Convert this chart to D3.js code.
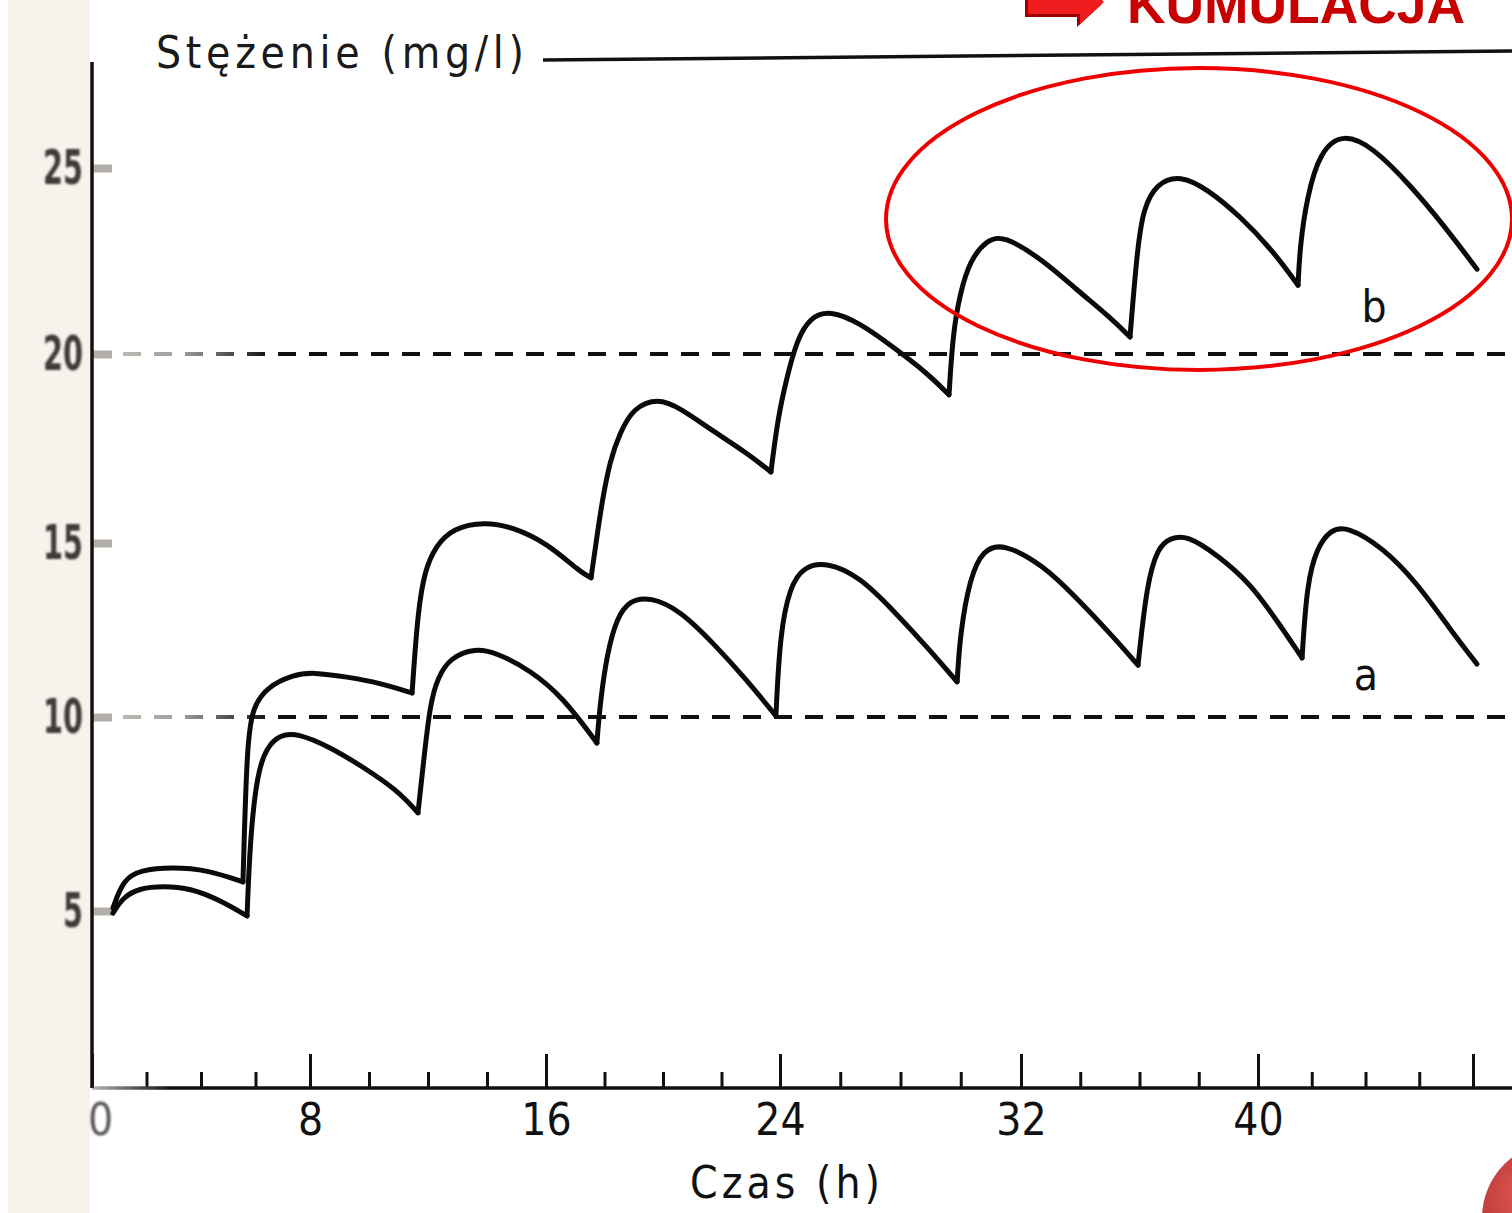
<!DOCTYPE html>
<html>
<head>
<meta charset="utf-8">
<script src="https://cdn.jsdelivr.net/npm/d3@7"></script>
<style>
  body { margin: 0; background: #fff; }
  svg { display: block; }
</style>
</head>
<body>
<svg id="chart"></svg>
<script>
// hours on the time axis, and where the labels are printed
var hourTicks = [0, 8, 16, 24, 32, 40, 48];
var hourLabels = ['0', '8', '16', '24', '32', '40', ''];
var minorHours = d3.range(0, 49, 2);
var concTicks = [5, 10, 15, 20, 25];
var levelLines = [10, 20];

// [time (h), concentration (mg/l)]
var seriesA = [
  [0.77, 4.94], [1.14, 5.36], [1.76, 5.59], [2.61, 5.64], [3.60, 5.59], [4.70, 5.28], [5.69, 4.86],
  [5.80, 6.83], [6.06, 8.56], [6.42, 9.23], [6.90, 9.54], [7.52, 9.59], [8.68, 9.23], [9.80, 8.71], [10.95, 8.12], [11.66, 7.53],
  [11.83, 8.71], [12.07, 10.40], [12.34, 11.15], [12.75, 11.70], [13.59, 11.98], [14.34, 11.84], [15.46, 11.35], [16.58, 10.57], [17.74, 9.33],
  [17.85, 10.40], [18.09, 11.84], [18.43, 12.87], [18.87, 13.36], [19.56, 13.45], [20.58, 13.07], [21.71, 12.13], [22.87, 11.06], [23.86, 10.03],
  [24.00, 12.41], [24.33, 13.74], [24.76, 14.31], [25.56, 14.46], [26.66, 14.02], [27.75, 13.07], [28.88, 12.01], [29.88, 11.01],
  [29.98, 12.41], [30.31, 14.02], [30.74, 14.80], [31.40, 15.00], [32.74, 14.37], [33.89, 13.41], [35.00, 12.41], [35.95, 11.49],
  [36.25, 13.85], [36.62, 14.87], [37.03, 15.13], [37.60, 15.21], [38.62, 14.66], [39.73, 13.86], [40.82, 12.64], [41.64, 11.70],
  [41.82, 13.85], [42.20, 14.87], [42.68, 15.34], [43.31, 15.45], [44.65, 14.87], [45.92, 13.85], [47.14, 12.53], [48.15, 11.52]
];
var seriesB = [
  [0.77, 5.08], [1.14, 5.80], [1.76, 6.06], [2.97, 6.13], [4.22, 6.06], [5.54, 5.75],
  [5.69, 9.41], [5.91, 10.29], [6.42, 10.86], [7.38, 11.21], [8.10, 11.29], [9.25, 11.15], [10.37, 10.98], [11.46, 10.69],
  [11.66, 13.10], [11.90, 14.22], [12.24, 14.89], [12.85, 15.40], [13.93, 15.56], [14.88, 15.42], [16.03, 15.00], [17.16, 14.17], [17.54, 14.00],
  [17.74, 15.16], [17.91, 16.06], [18.19, 17.20], [18.53, 17.91], [18.97, 18.57], [19.83, 18.84], [20.58, 18.57], [21.71, 17.96], [22.87, 17.38], [23.69, 16.88],
  [23.93, 18.33], [24.23, 19.39], [24.56, 20.38], [25.00, 20.99], [25.66, 21.18], [26.66, 20.83], [27.75, 20.19], [28.88, 19.50], [29.61, 18.92],
  [29.74, 20.56], [29.98, 21.64], [30.31, 22.53], [30.87, 23.06], [31.40, 23.20], [32.74, 22.53], [33.89, 21.72], [35.00, 20.99], [35.68, 20.46],
  [35.91, 22.69], [36.12, 23.92], [36.59, 24.60], [37.37, 24.81], [38.28, 24.44], [39.39, 23.71], [40.56, 22.77], [41.49, 21.85],
  [41.56, 22.88], [41.82, 24.22], [42.31, 25.48], [43.16, 25.99], [44.28, 25.59], [45.66, 24.54], [46.88, 23.49], [48.15, 22.28]
];

var W = 1512, H = 1213;
var FONT = '"DejaVu Sans Condensed", "DejaVu Sans", sans-serif';

// the scan is slightly stretched, so the scales follow its printed ticks
var x = d3.scaleLinear().domain(hourTicks).range([92, 310, 546, 780, 1021, 1258, 1473]);
var y = d3.scaleLinear().domain([0, 5, 10, 15, 20, 25, 28]).range([1088, 911, 717, 543, 354, 168, 62]);

var svg = d3.select('#chart').attr('width', W).attr('height', H);
var defs = svg.append('defs');

var fade = defs.append('linearGradient').attr('id', 'fade')
  .attr('gradientUnits', 'userSpaceOnUse')
  .attr('x1', 92).attr('x2', 270).attr('y1', 0).attr('y2', 0);
fade.append('stop').attr('offset', 0).attr('stop-color', '#c9c5c0');
fade.append('stop').attr('offset', 0.5).attr('stop-color', '#a19d99');
fade.append('stop').attr('offset', 1).attr('stop-color', '#111');

var axisFade = defs.append('linearGradient').attr('id', 'axisFade')
  .attr('gradientUnits', 'userSpaceOnUse')
  .attr('x1', 92).attr('x2', 170).attr('y1', 0).attr('y2', 0);
axisFade.append('stop').attr('offset', 0).attr('stop-color', '#b8b3ae');
axisFade.append('stop').attr('offset', 1).attr('stop-color', '#111');

defs.append('filter').attr('id', 'soft')
  .append('feGaussianBlur').attr('stdDeviation', 1.3);

var ball = defs.append('radialGradient').attr('id', 'ball')
  .attr('cx', '30%').attr('cy', '35%').attr('r', '70%');
ball.append('stop').attr('offset', 0).attr('stop-color', '#e05a55');
ball.append('stop').attr('offset', 1).attr('stop-color', '#9e1d1d');

// beige strip of the scanned page
svg.append('rect').attr('x', 8).attr('y', 0).attr('width', 82).attr('height', H)
  .attr('fill', '#f7f3ec');

// dashed reference levels
svg.selectAll('line.level').data(levelLines).enter().append('line')
  .attr('class', 'level')
  .attr('x1', 92).attr('x2', W)
  .attr('y1', function(d) { return y(d); }).attr('y2', function(d) { return y(d); })
  .attr('stroke', 'url(#fade)').attr('stroke-width', 4)
  .attr('stroke-dasharray', '18 13');

// x axis: minor ticks, then major ticks with labels
var gx = svg.append('g').attr('transform', 'translate(0,' + y(0) + ')');
gx.append('g')
  .call(d3.axisBottom(x).tickValues(minorHours).tickSizeInner(-16).tickSizeOuter(0).tickFormat(''))
  .call(function(g) { g.select('.domain').remove(); });
gx.append('g')
  .call(d3.axisBottom(x).tickValues(hourTicks).tickSizeInner(-34).tickSizeOuter(0).tickPadding(16)
    .tickFormat(function(d, i) { return hourLabels[i]; }))
  .call(function(g) { g.select('.domain').remove(); });
gx.selectAll('.tick line').attr('stroke', '#111').attr('stroke-width', 3);
gx.selectAll('.tick text')
  .attr('fill', '#111').attr('font-family', FONT).attr('font-size', 44);
gx.selectAll('.tick').filter(function(d) { return d === 0; }).select('text')
  .attr('fill', '#555').attr('filter', 'url(#soft)').attr('dx', 8);
gx.append('line').attr('x1', 92).attr('x2', W).attr('y1', 0).attr('y2', 0)
  .attr('stroke', 'url(#axisFade)').attr('stroke-width', 3.5);

// y axis
var gy = svg.append('g').attr('transform', 'translate(92,0)');
gy.call(d3.axisLeft(y).tickValues(concTicks).tickSizeInner(-20).tickSizeOuter(0).tickPadding(9))
  .call(function(g) { g.select('.domain').remove(); });
gy.selectAll('.tick line').attr('stroke', '#b3aea9').attr('stroke-width', 8);
gy.selectAll('.tick text')
  .attr('fill', '#3d3a38').attr('font-family', FONT).attr('font-size', 48).attr('font-weight', 'bold')
  .attr('textLength', function(d) { return String(d).length * 20; })
  .attr('lengthAdjust', 'spacingAndGlyphs')
  .attr('filter', 'url(#soft)');
gy.append('line').attr('x1', 0).attr('x2', 0).attr('y1', y(28)).attr('y2', y(0))
  .attr('stroke', '#111').attr('stroke-width', 3.5);
gy.append('line').attr('x1', 2).attr('x2', 40).attr('y1', y(28)).attr('y2', y(28))
  .attr('stroke', '#b3aea9').attr('stroke-width', 8).attr('filter', 'url(#soft)');

// axis titles
svg.append('text').attr('x', 156).attr('y', 68)
  .attr('font-family', FONT).attr('font-size', 44).attr('fill', '#1a1a1a')
  .attr('textLength', 368).attr('lengthAdjust', 'spacing')
  .text('Stężenie (mg/l)');
svg.append('line').attr('x1', 543).attr('y1', 60).attr('x2', W).attr('y2', 51)
  .attr('stroke', '#111').attr('stroke-width', 3.5);
svg.append('text').attr('x', 690).attr('y', 1198)
  .attr('font-family', FONT).attr('font-size', 44).attr('fill', '#111')
  .attr('textLength', 190).attr('lengthAdjust', 'spacing')
  .text('Czas (h)');

// concentration curves, one piece per dosing interval so the troughs stay sharp
var splitAtTroughs = function(pts) {
  var out = [], cur = [pts[0]];
  for (var i = 1; i < pts.length; i++) {
    cur.push(pts[i]);
    if (i < pts.length - 1 && pts[i][1] < pts[i - 1][1] && pts[i][1] < pts[i + 1][1]) {
      out.push(cur);
      cur = [pts[i]];
    }
  }
  out.push(cur);
  return out;
};

var line = d3.line()
  .x(function(d) { return x(d[0]); })
  .y(function(d) { return y(d[1]); })
  .curve(d3.curveBasis);

[seriesA, seriesB].forEach(function(s, k) {
  svg.append('g').attr('class', 'series-' + (k ? 'b' : 'a'))
    .selectAll('path').data(splitAtTroughs(s)).enter().append('path')
    .attr('d', line)
    .attr('fill', 'none').attr('stroke', '#0a0a0a').attr('stroke-width', 5)
    .attr('stroke-linecap', 'round').attr('stroke-linejoin', 'round');
});

svg.append('text').attr('x', 1366).attr('y', 690).attr('text-anchor', 'middle')
  .attr('font-family', FONT).attr('font-size', 44).attr('fill', '#111').text('a');
svg.append('text').attr('x', 1374).attr('y', 322).attr('text-anchor', 'middle')
  .attr('font-family', FONT).attr('font-size', 44).attr('fill', '#111').text('b');

// red highlight
svg.append('ellipse').attr('cx', 1199).attr('cy', 219).attr('rx', 313).attr('ry', 151)
  .attr('fill', 'none').attr('stroke', '#ee0000').attr('stroke-width', 4);

var arrow = [[1028, -12], [1080, -12], [1080, -22], [1104, 2], [1080, 24], [1080, 14], [1028, 14]];
svg.append('polygon').attr('points', arrow.map(function(p) { return (p[0] - 3) + ',' + (p[1] + 3); }).join(' '))
  .attr('fill', '#9c0000');
svg.append('polygon').attr('points', arrow.map(function(p) { return p.join(','); }).join(' '))
  .attr('fill', '#ee1c1c');
svg.append('text').attr('x', 1127).attr('y', 23)
  .attr('font-family', '"Liberation Sans", Arial, sans-serif').attr('font-weight', 'bold')
  .attr('font-size', 53).attr('fill', '#c80000')
  .attr('textLength', 338).attr('lengthAdjust', 'spacingAndGlyphs')
  .text('KUMULACJA');

svg.append('circle').attr('cx', 1558).attr('cy', 1218).attr('r', 76).attr('fill', 'url(#ball)');
</script>
</body>
</html>
